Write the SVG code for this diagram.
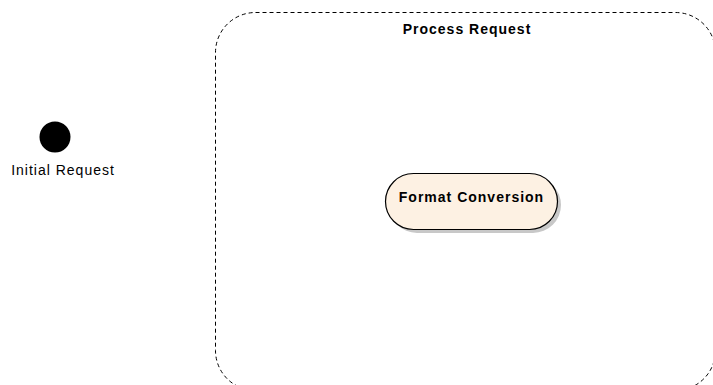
<svg xmlns="http://www.w3.org/2000/svg" width="713" height="385" viewBox="0 0 713 385">
<style>
text{font-family:"Liberation Sans",Arial,sans-serif;font-size:14px;letter-spacing:1px;fill:#000}
.b{font-weight:bold}
</style>
<rect width="713" height="385" fill="#fff"/>
<g id="process-request">
<rect x="215.5" y="12.5" width="500" height="378" rx="40" ry="40" fill="none" stroke="#000" stroke-width="1" stroke-dasharray="4,3"/>
<text class="b" x="467" y="34" text-anchor="middle">Process Request</text>
</g>
<g id="initial-request">
<circle cx="55" cy="137" r="15.5" fill="#000"/>
<text x="63" y="175" text-anchor="middle">Initial Request</text>
</g>
<g id="format-conversion">
<rect x="389" y="177" width="172" height="56" rx="28" fill="#c8c8c8"/>
<rect x="385.5" y="173.5" width="172" height="56" rx="28" fill="#fdf1e3" stroke="#000" stroke-width="1.2"/>
<text class="b" x="471.5" y="202" text-anchor="middle">Format Conversion</text>
</g>
<g id="connectors"/>
</svg>
